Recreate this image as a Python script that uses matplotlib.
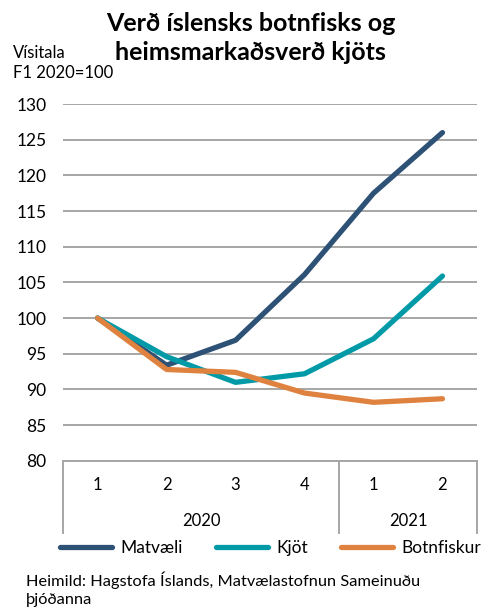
import matplotlib.pyplot as plt
import matplotlib.transforms as mtransforms
import numpy as np

plt.rcParams['font.family'] = ['Lato', 'DejaVu Sans']

# data
quarters = ['1', '2', '3', '4', '1', '2']
years = ['2020', '2021']
year_sizes = [4, 2]
matvaeli = [100, 93.4, 96.9, 106.1, 117.5, 126.0]
kjot = [100, 94.6, 91.0, 92.2, 97.1, 105.9]
botnfiskur = [100, 92.8, 92.4, 89.5, 88.2, 88.7]
yticks = list(range(80, 131, 5))

series = [('Matvæli', matvaeli, '#2E5276'),
          ('Kjöt', kjot, '#039AA8'),
          ('Botnfiskur', botnfiskur, '#E0823F')]

fig = plt.figure(figsize=(5.01, 6.12), dpi=100)
ax = fig.add_axes([0.126, 0.247, 0.826, 0.583])

x = np.arange(len(quarters))
for name, vals, col in series:
    ax.plot(x, vals, color=col, lw=3.8, label=name, solid_capstyle='round',
            solid_joinstyle='round')

ax.set_xlim(-0.5, len(quarters) - 0.5)
ax.set_ylim(80, 130)
ax.set_yticks(yticks)
ax.set_yticklabels([str(v) for v in yticks], fontsize=12.5)
ax.tick_params(axis='y', length=0, pad=12)
ax.set_xticks([])
ax.grid(axis='y', color='#A6A6A6', lw=1.4)
ax.set_axisbelow(True)
for s in ['top', 'right', 'left']:
    ax.spines[s].set_visible(False)
ax.spines['bottom'].set_color('#A6A6A6')
ax.spines['bottom'].set_linewidth(1.4)

# multi-level category axis
trans = mtransforms.blended_transform_factory(ax.transData, ax.transAxes)
box_bottom = -0.202
for i, q in enumerate(quarters):
    ax.text(i, -0.067, q, transform=trans, ha='center', va='center', fontsize=12)
start = 0
edges = [-0.5]
for yr, n in zip(years, year_sizes):
    ax.text(start + (n - 1) / 2, -0.168, yr, transform=trans, ha='center',
            va='center', fontsize=12)
    start += n
    edges.append(start - 0.5)
for e in edges:
    ax.plot([e, e], [0, box_bottom], transform=trans, color='#A6A6A6', lw=1.4,
            clip_on=False)

fig.text(0.5, 0.938, 'Verð íslensks botnfisks og\nheimsmarkaðsverð kjöts',
         ha='center', va='center', fontsize=18, fontweight='bold',
         linespacing=1.3)
fig.text(0.025, 0.897, 'Vísitala\nF1 2020=100', ha='left', va='center',
         fontsize=12, linespacing=1.35)

fig.legend(loc='center', bbox_to_anchor=(0.54, 0.104), ncol=3, frameon=False,
           fontsize=12.5, handlelength=3.0, columnspacing=1.9, handletextpad=0.5)

fig.text(0.052, 0.037, 'Heimild: Hagstofa Íslands, Matvælastofnun Sameinuðu\nþjóðanna',
         ha='left', va='center', fontsize=11.8, linespacing=1.35)

fig.savefig('out.png', dpi=100)
